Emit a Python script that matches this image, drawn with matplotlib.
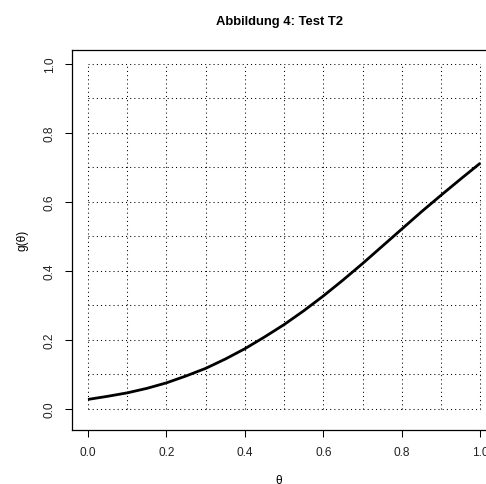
import numpy as np
from matplotlib import pyplot as plt

plt.rcParams['font.family'] = ['Liberation Sans', 'DejaVu Sans']

# power function of test T2, read at steps of 0.05
theta = [0.00, 0.05, 0.10, 0.15, 0.20, 0.25, 0.30, 0.35, 0.40, 0.45, 0.50,
         0.55, 0.60, 0.65, 0.70, 0.75, 0.80, 0.85, 0.90, 0.95, 1.00]
g = [0.027, 0.036, 0.046, 0.059, 0.075, 0.095, 0.117, 0.144, 0.174, 0.208, 0.244,
     0.284, 0.327, 0.373, 0.421, 0.471, 0.521, 0.571, 0.619, 0.666, 0.712]

grid_x = [0.0, 0.1, 0.2, 0.3, 0.4, 0.5, 0.6, 0.7, 0.8, 0.9, 1.0]
grid_y = [0.0, 0.1, 0.2, 0.3, 0.4, 0.5, 0.6, 0.7, 0.8, 0.9, 1.0]
tick_vals = [0.0, 0.2, 0.4, 0.6, 0.8, 1.0]
tick_labels = ["0.0", "0.2", "0.4", "0.6", "0.8", "1.0"]

W, H = 486, 485
fig = plt.figure(figsize=(W / 100, H / 100), dpi=100)
ax = fig.add_axes([72.3 / W, 1 - 430.7 / H, (496 - 72.3) / W, (430.7 - 50.7) / H])

# dotted reference grid, only inside the unit square
dot = (0, (1, 3))
ax.vlines(grid_x, 0, 1, colors='black', linestyles=dot, linewidth=0.75)
ax.hlines(grid_y, 0, 1, colors='black', linestyles=dot, linewidth=0.75)

ax.plot(theta, g, color='black', linewidth=2.0, solid_capstyle='butt')

ax.set_xlim(-0.04, 1.04)
ax.set_ylim(-0.0608, 1.0408)

for s in ax.spines.values():
    s.set_linewidth(0.9)

ax.set_xticks(tick_vals)
ax.set_xticklabels(tick_labels)
ax.set_yticks(tick_vals)
ax.set_yticklabels(tick_labels, rotation=90, va='center')
ax.tick_params(direction='out', length=5, width=0.75, labelsize=8.6, pad=7,
               colors='black', labelcolor='#222222')

ax.set_xlabel("θ", fontsize=8.6)
ax.xaxis.set_label_coords((279 - 72.3) / (496 - 72.3), -(481 - 430.7) / 380)
ax.set_ylabel("g(θ)", fontsize=8.6)
ax.yaxis.set_label_coords(-(72.3 - 23) / (496 - 72.3), 0.5)
ax.xaxis.label.set_va('center')
ax.yaxis.label.set_va('center')

fig.text(279.3 / W, 1 - 25 / H, "Abbildung 4: Test T2", ha='center', va='baseline',
         fontsize=9.4, fontweight='bold')

fig.savefig("out.png", dpi=100)
